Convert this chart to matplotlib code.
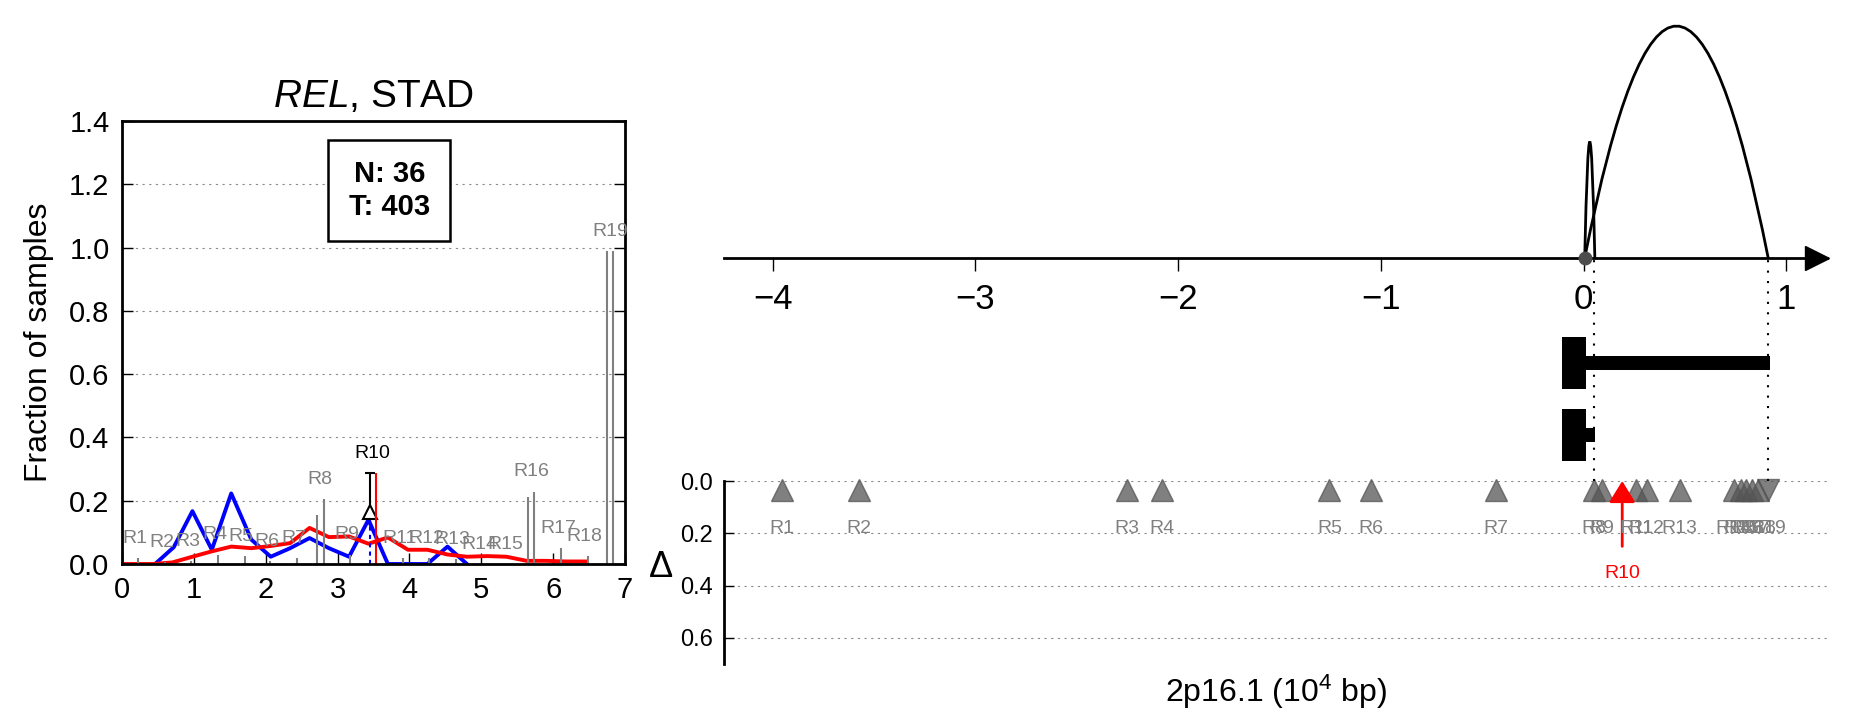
import matplotlib
matplotlib.use("Agg")
import matplotlib.pyplot as plt
from matplotlib.path import Path
from matplotlib.patches import PathPatch
from matplotlib.ticker import FormatStrFormatter

plt.rcParams['font.family'] = ['Liberation Sans', 'DejaVu Sans']
plt.rcParams['mathtext.fontset'] = 'custom'
plt.rcParams['mathtext.rm'] = 'Liberation Sans'
plt.rcParams['mathtext.it'] = 'Liberation Sans:italic'

# -------- Region names --------
REGIONS = ["R1", "R2", "R3", "R4", "R5", "R6", "R7", "R8", "R9", "R10",
           "R11", "R12", "R13", "R14", "R15", "R16", "R17", "R18", "R19"]
HIGHLIGHT = "R10"

# -------- Left panel: fraction of samples --------
frac_pos = [0.18, 0.55, 0.92, 1.29, 1.66, 2.02, 2.39, 2.76, 3.13, 3.49,
            3.86, 4.23, 4.60, 4.97, 5.34, 5.69, 6.07, 6.44, 6.79]
frac_normal = [0.0, 0.0, 0.0, 0.0, 0.0, 0.0, 0.0, 0.155, 0.0, 0.287,
               0.0, 0.0, 0.0, 0.0, 0.0, 0.213, 0.0, 0.0, 0.99]
frac_tumor = [0.02, 0.005, 0.01, 0.03, 0.025, 0.01, 0.02, 0.205, 0.03, 0.287,
              0.02, 0.02, 0.015, 0.0, 0.0, 0.229, 0.05, 0.025, 0.99]
r10_marker = 0.165
r10_blue = 0.14

blue_x = [0.46, 0.72, 0.98, 1.25, 1.52, 1.80, 2.07, 2.34, 2.61, 2.88, 3.16,
          3.43, 3.70, 3.98, 4.25, 4.53, 4.80]
blue_y = [0.0, 0.053, 0.167, 0.045, 0.223, 0.077, 0.023, 0.05, 0.082, 0.05,
          0.023, 0.14, 0.0, 0.0, 0.0, 0.055, 0.0]

red_x = [0.0, 0.43, 0.70, 0.98, 1.25, 1.52, 1.80, 2.07, 2.34, 2.61, 2.88, 3.16,
         3.43, 3.70, 3.98, 4.25, 4.53, 4.80, 5.08, 5.35, 5.63, 5.90, 6.18, 6.45]
red_y = [0.0, 0.0, 0.005, 0.023, 0.04, 0.055, 0.05, 0.057, 0.066, 0.114, 0.085,
         0.087, 0.064, 0.084, 0.045, 0.045, 0.03, 0.023, 0.025, 0.023, 0.01,
         0.01, 0.008, 0.008]

N_SAMPLES = 36
T_SAMPLES = 403

# -------- Right panel: genomic positions (10^4 bp) --------
region_pos = [-3.955, -3.575, -2.254, -2.082, -1.254, -1.05, -0.433, 0.052,
              0.09, 0.19, 0.26, 0.31, 0.474, 0.74, 0.775, 0.80, 0.83, 0.86, 0.91]
region_up = [True] * 18 + [False]

# breakpoint arcs (start, end, height in px units of the top strip)
arc_start = [0.005, 0.005]
arc_end = [0.91, 0.055]
arc_height = [232, 116]
breakpoint_x = 0.005
guide_x = [0.05, 0.91]

# transcripts: block start/end and tail end
tx_block_start = [-0.107, -0.107]
tx_block_end = [0.013, 0.013]
tx_tail_end = [0.92, 0.058]
tx_row_y = [-105, -177]

axis_ticks = [-4, -3, -2, -1, 0, 1]

# -------- Canvas --------
W, H = 1853, 718
fig = plt.figure(figsize=(W / 100, H / 100), dpi=100)

# ======================================================
# Left panel
# ======================================================
ax1 = fig.add_axes([122 / W, 1 - 564 / H, 503 / W, 443 / H])
ax1.set_xlim(0, 7)
ax1.set_ylim(0, 1.4)
ax1.set_yticks([0, 0.2, 0.4, 0.6, 0.8, 1.0, 1.2, 1.4])
ax1.set_xticks([0, 1, 2, 3, 4, 5, 6, 7])
ax1.yaxis.set_major_formatter(FormatStrFormatter('%.1f'))
ax1.tick_params(direction='in', length=8, width=1, labelsize=21, right=True, pad=9)
ax1.yaxis.grid(True, linestyle=(0, (2, 4)), color='0.55', lw=0.8)
ax1.set_axisbelow(True)
for s in ax1.spines.values():
    s.set_linewidth(2)

ax1.plot(blue_x, blue_y, color='blue', lw=2.8)
ax1.plot(red_x, red_y, color='red', lw=2.8)

for name, c, n, t in zip(REGIONS, frac_pos, frac_normal, frac_tumor):
    top = max(n, t)
    if name == HIGHLIGHT:
        ax1.vlines(c - 0.045, 0, r10_blue, colors='blue', lw=1.5, linestyles=(0, (2, 2)))
        ax1.vlines(c - 0.045, r10_marker + 0.02, n, colors='black', lw=1.5)
        ax1.plot(c - 0.045, n, marker='_', ms=7, mew=1.5, color='black')
        ax1.plot(c - 0.045, r10_marker, marker='^', ms=10, mfc='white', mec='black', mew=1.5)
        ax1.vlines(c + 0.045, 0, t, colors='red', lw=1.5)
        ax1.text(c, top + 0.035, name, ha='center', va='bottom', fontsize=14, color='black')
    else:
        if n > 0:
            ax1.vlines(c - 0.045, 0, n, colors='gray', lw=1.5)
        if t > 0:
            ax1.vlines(c + 0.045, 0, t, colors='gray', lw=1.5)
        ax1.text(c, top + 0.035, name, ha='center', va='bottom', fontsize=14, color='gray')

ax1.text(3.72, 1.18, f"N: {N_SAMPLES}\nT: {T_SAMPLES}", ha='center', va='center',
         fontsize=21, fontweight='bold', multialignment='center',
         bbox=dict(boxstyle='square,pad=0.7', facecolor='white', edgecolor='black', lw=1.8))

ax1.set_title(r'$\it{REL}$, STAD', fontsize=28, pad=10)
ax1.set_ylabel("Fraction of samples", fontsize=23)
ax1.yaxis.set_label_coords(-0.165, 0.5)
ax1.yaxis.label.set_va('center')

# ======================================================
# Right bottom panel: delta
# ======================================================
ax3 = fig.add_axes([724 / W, 1 - 664 / H, 1103 / W, 183 / H])
ax3.set_xlim(-4.24, 1.2)
ax3.set_ylim(0.7, 0)
ax3.set_yticks([0, 0.2, 0.4, 0.6])
ax3.yaxis.set_major_formatter(FormatStrFormatter('%.1f'))
ax3.set_xticks([])
ax3.tick_params(axis='y', direction='in', length=7, width=1, labelsize=17, pad=8)
for k in ['top', 'right', 'bottom']:
    ax3.spines[k].set_visible(False)
ax3.spines['left'].set_linewidth(2)
ax3.yaxis.grid(True, linestyle=(0, (2, 4)), color='0.55', lw=0.8)
ax3.set_axisbelow(True)

for name, x, up in zip(REGIONS, region_pos, region_up):
    if name == HIGHLIGHT:
        ax3.annotate('', xy=(x, 0.0), xytext=(x, 0.25),
                     arrowprops=dict(arrowstyle='-|>,head_length=0.65,head_width=0.4',
                                     color='red', lw=2, mutation_scale=20,
                                     shrinkA=0, shrinkB=0))
        ax3.text(x, 0.355, name, ha='center', va='center', fontsize=14, color='red')
        continue
    ax3.plot(x, 0.035, marker='^' if up else 'v', ms=16, color='#555555',
             alpha=0.75, clip_on=False)
    ax3.text(x, 0.18, name, ha='center', va='center', fontsize=14, color='gray')

ax3.set_xlabel("2p16.1 (10$^4$ bp)", fontsize=23, labelpad=6)
ax3.set_ylabel("\u0394", fontsize=26, rotation=0)
ax3.yaxis.set_label_coords(-0.057, 0.525)
ax3.yaxis.label.set_va('center')

# ======================================================
# Right top panel: number line, arcs, transcripts
# ======================================================
ax2 = fig.add_axes([724 / W, 1 - 481 / H, 1103 / W, 471 / H])
ax2.set_facecolor('none')
ax2.set_xlim(-4.24, 1.2)
ax2.set_ylim(-223, 248)
for k in ['top', 'right', 'left']:
    ax2.spines[k].set_visible(False)
ax2.spines['bottom'].set_position(('data', 0))
ax2.spines['bottom'].set_linewidth(2)
ax2.set_yticks([])
ax2.set_xticks(axis_ticks)
ax2.tick_params(axis='x', direction='out', length=9, width=1, labelsize=25, pad=9)
ax2.plot(1.15, 0, marker='>', ms=17, color='black', clip_on=False)

for s, e, h in zip(arc_start, arc_end, arc_height):
    path = Path([(s, 0), ((s + e) / 2, 2 * h), (e, 0)],
                [Path.MOVETO, Path.CURVE3, Path.CURVE3])
    ax2.add_patch(PathPatch(path, facecolor='none', edgecolor='black', lw=2))

ax2.vlines(guide_x, -223, 0, colors='black', lw=1.5, linestyles=(0, (1, 4)))
ax2.plot(breakpoint_x, 0, 'o', ms=9, color='0.3', zorder=5)

for b0, b1, te, y in zip(tx_block_start, tx_block_end, tx_tail_end, tx_row_y):
    ax2.broken_barh([(b0, b1 - b0)], (y - 26, 52), facecolors='black')
    ax2.broken_barh([(b1, te - b1)], (y - 7, 14), facecolors='black')

fig.savefig("out.png", dpi=100)
